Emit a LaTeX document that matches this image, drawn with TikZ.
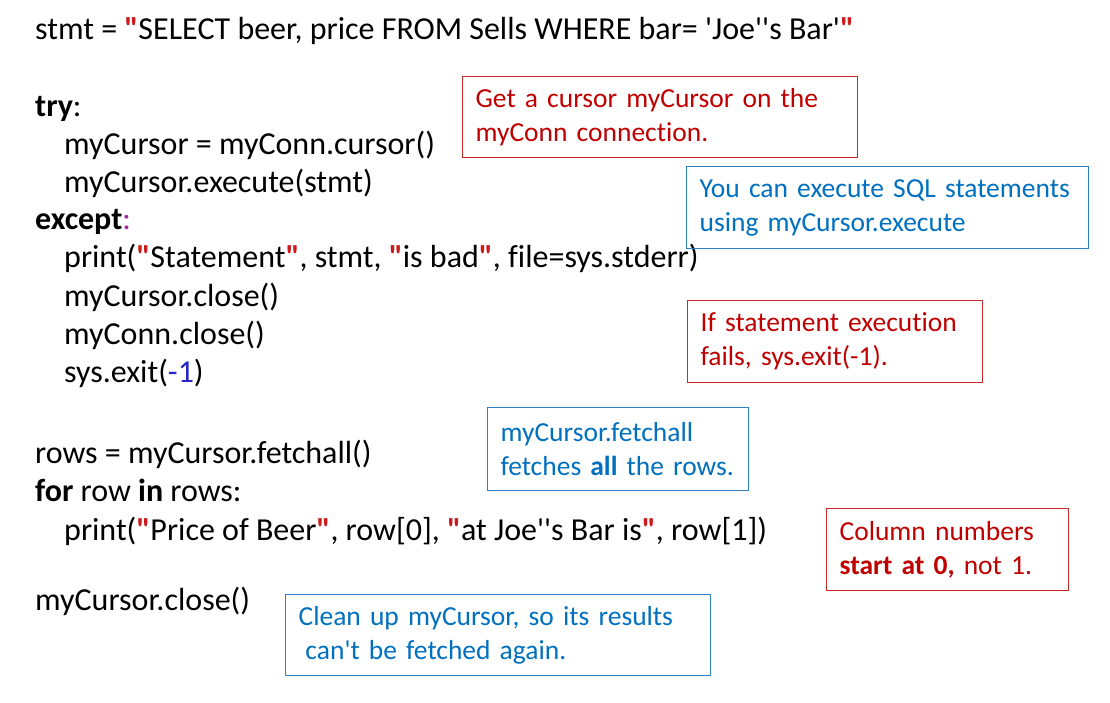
\documentclass[tikz,border=0pt]{standalone}
\usepackage{fontspec}
\setmainfont{Carlito}[Ligatures={TeXOff,NoCommon}]
\definecolor{qred}{RGB}{204,25,25}
\definecolor{cpurple}{RGB}{160,40,160}
\definecolor{nblue}{RGB}{40,40,200}
\definecolor{redtext}{RGB}{192,0,0}
\definecolor{redline}{RGB}{204,40,40}
\definecolor{bluetext}{RGB}{0,112,192}
\definecolor{blueline}{RGB}{46,126,200}
\newcommand\qq{\textcolor{qred}{\textbf{"}}}
\begin{document}
\begin{tikzpicture}[x=1pt,y=-1pt,
  codeline/.style={anchor=base west, inner sep=0pt, font=\fontsize{32}{38}\selectfont},
  note/.style={draw, line width=1.2pt, anchor=north west, inner xsep=13pt, inner ysep=0pt,
    align=left, font=\fontsize{27.5}{34}\selectfont},
  rednote/.style={note, draw=redline, text=redtext},
  bluenote/.style={note, draw=blueline, text=bluetext}]
\useasboundingbox (0,0) rectangle (1110,703);
\fill[white] (0,0) rectangle (1110,703);
% code
\node[codeline] (l1) at (35,40) {stmt = \qq SELECT beer, price FROM Sells WHERE bar= 'Joe''s Bar'\qq};
\node[codeline] (l2) at (35,117) {\textbf{try}:};
\node[codeline] (l3) at (64,155) {myCursor = myConn.cursor()};
\node[codeline] (l4) at (64,193) {myCursor.execute(stmt)};
\node[codeline] (l5) at (35,230) {\textbf{except}\textcolor{cpurple}{:}};
\node[codeline] (l6) at (64,268) {print(\qq Statement\qq, stmt, \qq is bad\qq, file=sys.stderr)};
\node[codeline] (l7) at (64,306) {myCursor.close()};
\node[codeline] (l8) at (64,344) {myConn.close()};
\node[codeline] (l9) at (64,382) {sys.exit(\textcolor{nblue}{-1})};
\node[codeline] (l10) at (35,463) {rows = myCursor.fetchall()};
\node[codeline] (l11) at (35,501) {\textbf{for} row \textbf{in} rows:};
\node[codeline] (l12) at (64,540) {print(\qq Price of Beer\qq, row[0], \qq at Joe''s Bar is\qq, row[1])};
\node[codeline] (l13) at (35,610) {myCursor.close()};
% notes
\node[rednote, text width=369pt, minimum height=81pt] (n1) at (462,76)
  {Get a cursor myCursor on the\\myConn connection.};
\node[bluenote, text width=376pt, minimum height=82pt] (n2) at (686,166)
  {You can execute SQL statements\\using myCursor.execute};
\node[rednote, text width=269pt, minimum height=82pt] (n3) at (687,300)
  {If statement execution\\fails, sys.exit(-1).};
\node[bluenote, text width=235pt, minimum height=83pt] (n4) at (487,407)
  {myCursor.fetchall\\fetches \textbf{all} the rows.};
\node[rednote, text width=216pt, minimum height=82pt] (n5) at (826,508)
  {Column numbers\\\textbf{start at 0,} not 1.};
\node[bluenote, text width=399pt, minimum height=81pt] (n6) at (285,594)
  {Clean up myCursor, so its results\\\hspace*{0.25em}can't be fetched again.};
\end{tikzpicture}
\end{document}
